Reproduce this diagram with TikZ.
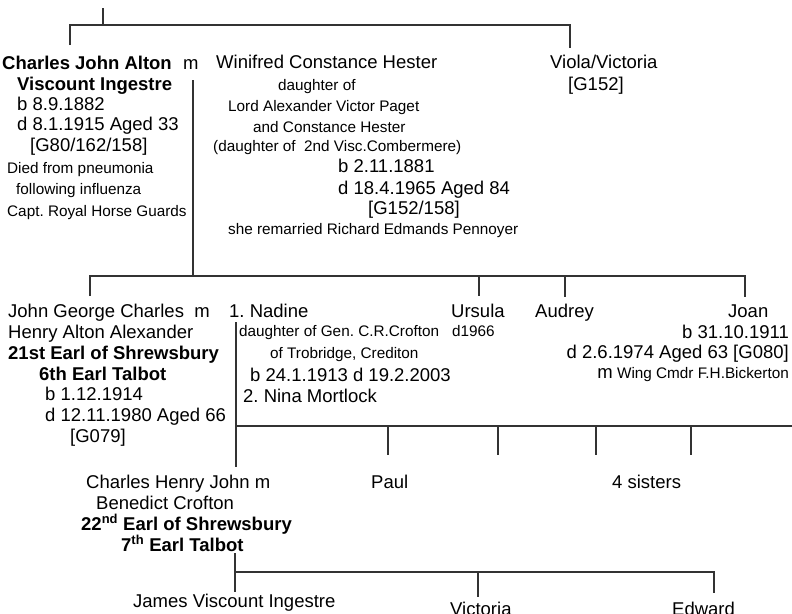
\documentclass[tikz,border=0pt]{standalone}
\usepackage{fontspec}
\setmainfont{Liberation Sans}
\frenchspacing
\tikzset{
    txt/.style = {anchor=base west, inner sep=0pt, font=\fontsize{18.5}{20}\selectfont},
    sml/.style = {txt, font=\fontsize{15.3}{18}\selectfont},
    bld/.style = {txt, font=\fontsize{18.5}{20}\selectfont\bfseries},
    tree/.style = {line width=1.1pt, black!80}
}

\begin{document}
\begin{tikzpicture}[x=1pt, y=-1pt]
    \useasboundingbox (0,0) rectangle (792,613);
    \clip (0,0) rectangle (792,613);

    % Charles John Alton m Winifred, and Viola
    \node[bld] (cja1) at (2,69) {Charles John Alton};
    \node[txt] (m1) at (183,69) {m};
    \node[bld] (cja2) at (17,90) {Viscount Ingestre};
    \node[txt] (cja3) at (17,110) {b 8.9.1882};
    \node[txt] (cja4) at (17,130) {d 8.1.1915 Aged 33};
    \node[txt] (cja5) at (30,151) {[G80/162/158]};
    \node[sml] (cja6) at (7,173) {Died from pneumonia};
    \node[sml] (cja7) at (16,194) {following influenza};
    \node[sml] (cja8) at (7,216) {Capt. Royal Horse Guards};

    \node[txt] (wch1) at (216,68) {Winifred Constance Hester};
    \node[sml] (wch2) at (278,90) {daughter of};
    \node[sml] (wch3) at (228,111) {Lord Alexander Victor Paget};
    \node[sml] (wch4) at (253,132) {and Constance Hester};
    \node[sml] (wch5) at (213,151) {(daughter of\ \ 2nd Visc.Combermere)};
    \node[txt] (wch6) at (338,172) {b 2.11.1881};
    \node[txt] (wch7) at (338,194) {d 18.4.1965 Aged 84};
    \node[txt] (wch8) at (368,214) {[G152/158]};
    \node[sml] (wch9) at (228,234) {she remarried Richard Edmands Pennoyer};

    \node[txt] (vv1) at (550,68) {Viola/Victoria};
    \node[txt] (vv2) at (568,90) {[G152]};

    % John George Charles m Nadine, and sisters
    \node[txt] (jgc1) at (8,317) {John George Charles\ \ m};
    \node[txt] (jgc2) at (8,338) {Henry Alton Alexander};
    \node[bld] (jgc3) at (8,359) {21st Earl of Shrewsbury};
    \node[bld] (jgc4) at (39,380) {6th Earl Talbot};
    \node[txt] (jgc5) at (45,400) {b 1.12.1914};
    \node[txt] (jgc6) at (45,421) {d 12.11.1980 Aged 66};
    \node[txt] (jgc7) at (70,442) {[G079]};

    \node[txt] (nad1) at (229,317) {1. Nadine};
    \node[sml] (nad2) at (239,336) {daughter of Gen. C.R.Crofton};
    \node[sml] (nad3) at (270,358) {of Trobridge, Crediton};
    \node[txt] (nad4) at (250,381) {b 24.1.1913 d 19.2.2003};
    \node[txt] (nad5) at (243,402) {2. Nina Mortlock};

    \node[txt] (urs1) at (451,317) {Ursula};
    \node[sml] (urs2) at (452,336) {d1966};
    \node[txt] (aud) at (535,317) {Audrey};
    \node[txt] (joan1) at (728,317) {Joan};
    \node[txt, anchor=base east] (joan2) at (789,338) {b 31.10.1911};
    \node[txt, anchor=base east] (joan3) at (789,358) {d 2.6.1974 Aged 63 [G080]};
    \node[sml, anchor=base east] (joan4) at (789,378) {{\fontsize{18.5}{20}\selectfont m} Wing Cmdr F.H.Bickerton};

    % Charles Henry John and siblings
    \node[txt] (chj1) at (86,488) {Charles Henry John m};
    \node[txt] (chj2) at (96,509) {Benedict Crofton};
    \node[bld] (chj3) at (81,530) {22\textsuperscript{nd} Earl of Shrewsbury};
    \node[bld] (chj4) at (121,551) {7\textsuperscript{th} Earl Talbot};
    \node[txt] (paul) at (371,488) {Paul};
    \node[txt] (sis) at (612,488) {4 sisters};

    % next generation
    \node[txt] (james) at (133,607) {James Viscount Ingestre};
    \node[txt] (vic) at (450,615) {Victoria};
    \node[txt] (edw) at (672,615) {Edward};

    % tree lines
    \coordinate (top) at (103,8);
    \coordinate (bar1) at (103,25);
    \coordinate (c1) at (70,45);
    \coordinate (c2) at (570,48);
    \draw[tree] (top) -- (bar1);
    \draw[tree] (c1) |- (c2 |- bar1) -- (c2);

    \coordinate (mar1) at (193,80);
    \coordinate (bar2) at (193,276);
    \draw[tree] (mar1) -- (bar2);
    \coordinate (d1) at (90,296);
    \coordinate (d4) at (745,297);
    \draw[tree] (d1) |- (d4 |- bar2) -- (d4);
    \draw[tree] (479,276) -- (479,296);
    \draw[tree] (565,276) -- (565,297);

    \coordinate (mar2) at (236,322);
    \coordinate (e1) at (236,467);
    \coordinate (bar3) at (792,426);
    \draw[tree] (mar2) -- (e1);
    \draw[tree] (mar2 |- bar3) -- (bar3);
    \foreach \x in {388,498,596,691}
        \draw[tree] (\x,426) -- (\x,455);

    \coordinate (mar3) at (235,553);
    \coordinate (f1) at (235,592);
    \coordinate (f3) at (714,593);
    \draw[tree] (mar3) -- (f1);
    \draw[tree] (235,572) -| (f3);
    \draw[tree] (478,572) -- (478,597);
\end{tikzpicture}
\end{document}
